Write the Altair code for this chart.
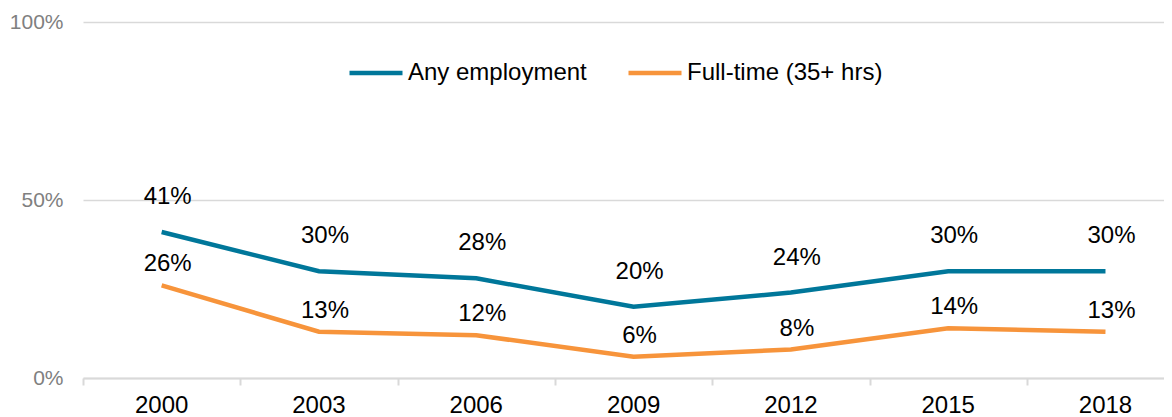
import altair as alt
import pandas as pd

years = ["2000", "2003", "2006", "2009", "2012", "2015", "2018"]
any_emp = [41, 30, 28, 20, 24, 30, 30]
full_time = [26, 13, 12, 6, 8, 14, 13]
series_names = ["Any employment", "Full-time (35+ hrs)"]
colors = ["#00779A", "#F7943B"]

rows = []
for i, y in enumerate(years):
    rows.append({"idx": i, "year": y, "series": series_names[0], "value": any_emp[i] / 100, "label": f"{any_emp[i]}%"})
    rows.append({"idx": i, "year": y, "series": series_names[1], "value": full_time[i] / 100, "label": f"{full_time[i]}%"})
df = pd.DataFrame(rows)
years_df = pd.DataFrame({"idx": list(range(len(years))), "year": years, "zero": [0] * len(years)})

xscale = alt.Scale(domain=[-0.5, 6.372], nice=False, zero=False)
yscale = alt.Scale(domain=[0, 1], nice=False)
font = "Liberation Sans"

lines = alt.Chart(df).mark_line(strokeWidth=4.5).encode(
    x=alt.X("idx:Q", scale=xscale, axis=alt.Axis(
        values=[-0.5, 0.5, 1.5, 2.5, 3.5, 4.5, 5.5], labels=False, title=None, grid=False,
        domainColor="#D9D9D9", domainWidth=2, tickColor="#D9D9D9", tickWidth=2, tickSize=7)),
    y=alt.Y("value:Q", scale=yscale, axis=alt.Axis(
        values=[0, 0.5, 1], format="%", title=None, domain=False, ticks=False,
        gridColor="#D9D9D9", gridWidth=1.5, labelColor="#808080", labelFontSize=21,
        labelFont=font, labelPadding=20)),
    color=alt.Color("series:N", scale=alt.Scale(domain=series_names, range=colors),
                    legend=alt.Legend(orient="none", legendX=264, legendY=22, direction="horizontal",
                                      title=None, symbolType="stroke", symbolSize=2809,
                                      symbolStrokeWidth=4.5, labelFontSize=24, labelFont=font,
                                      labelColor="#000000", labelOffset=3, columnPadding=32,
                                      labelLimit=500)),
)

lab_any = alt.Chart(df[df.series == series_names[0]]).mark_text(
    fontSize=24, font=font, color="#000000", dx=6, dy=-35, baseline="middle").encode(
    x=alt.X("idx:Q", scale=xscale), y=alt.Y("value:Q", scale=yscale), text="label:N")
lab_ft = alt.Chart(df[df.series == series_names[1]]).mark_text(
    fontSize=24, font=font, color="#000000", dx=6, dy=-21, baseline="middle").encode(
    x=alt.X("idx:Q", scale=xscale), y=alt.Y("value:Q", scale=yscale), text="label:N")

year_labels = alt.Chart(years_df).mark_text(
    fontSize=24, font=font, color="#000000", dy=28, baseline="middle").encode(
    x=alt.X("idx:Q", scale=xscale), y=alt.Y("zero:Q", scale=yscale), text="year:N")

chart = alt.layer(lines, lab_any, lab_ft, year_labels).properties(
    width=1081, height=356,
    autosize=alt.AutoSizeParams(type="none"),
    padding={"left": 75, "top": 14, "right": 0, "bottom": 40},
).configure(font=font).configure_view(strokeWidth=0).configure_axisY(domain=False)

chart.save("out.html", embed_options={"renderer": "svg", "actions": False})
